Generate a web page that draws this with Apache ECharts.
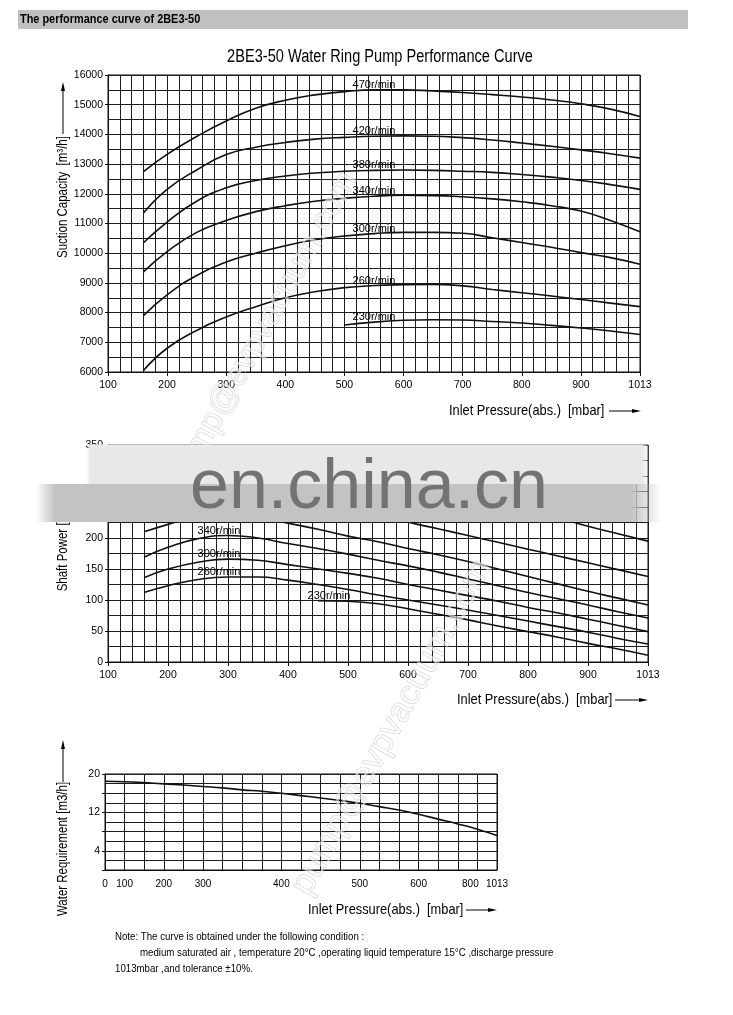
<!DOCTYPE html>
<html><head><meta charset="utf-8">
<script src="https://cdn.jsdelivr.net/npm/echarts@6/dist/echarts.min.js"></script>
<style>html,body{margin:0;padding:0;background:#fff}#c{width:733px;height:1015px}</style>
</head><body><div id="c"></div>
<script>
// ---------------- data ----------------
// x positions in mbar (the 1000 position is labelled 1013 on the original)
const pressure = [160,200,250,300,350,400,450,500,550,600,650,700,750,800,850,900,950,1000];
const xTickLabels = ['100','200','300','400','500','600','700','800','900','1013'];
const speedLabels = ['470r/min','420r/min','380r/min','340r/min','300r/min','260r/min','230r/min'];

// Suction capacity [m3/h]
const suction470 = [12750,13330,13930,14450,14880,15150,15330,15440,15500,15500,15460,15410,15340,15260,15160,15030,14850,14600];
const suction420 = [11350,12150,12800,13320,13570,13730,13840,13900,13940,13950,13940,13890,13810,13710,13600,13480,13350,13200];
const suction380 = [10350,11050,11750,12200,12450,12600,12700,12760,12790,12800,12790,12760,12720,12650,12560,12450,12310,12150];
const suction340 = [9370,10050,10700,11100,11400,11600,11750,11850,11920,11950,11940,11900,11830,11730,11600,11420,11100,10720];
const suction300 = [7900,8600,9250,9700,10000,10250,10450,10580,10660,10700,10700,10670,10520,10360,10200,10020,9850,9630];
const suction260 = [6050,6800,7400,7850,8200,8500,8700,8840,8910,8940,8950,8900,8780,8670,8560,8440,8320,8200];
const suction230 = [null,null,null,null,null,null,null,7580,7680,7740,7760,7750,7700,7650,7570,7480,7380,7260];

// Shaft power [kW]
const power470 = [300,318,330,336,337,334,328,320,310,298,285,272,259,246,233,219,207,195];
const power420 = [255,268,280,285,284,278,268,256,243,226,215,204,193,182,171,160,149,138];
const power380 = [210,222,236,240,234,224,214,203,194,183,173,162,150,138,126,114,103,92];
const power340 = [169,185,199,204,200,191,183,174,164,155,145,134,123,112,102,92,81,71];
const power300 = [136,150,161,166,164,157,150,143,135,125,116,107,98,88,79,69,59,49];
const power260 = [112,123,133,137,137,132,125,117,108,100,92,84,75,66,57,48,38,29];
const power230 = [null,null,null,null,null,null,99,98,94,86,77,68,58,49,40,30,21,11];

// Water requirement [m3/h] on the (non-linear) pressure grid
const waterCats = ['0','100','','200','','300','','','','400','','','','500','','','600','','','800','1013'];
const waterReq = [18.5,18.4,18.2,17.95,17.7,17.4,17.1,16.7,16.4,16.0,15.5,15.0,14.5,13.9,13.2,12.5,11.6,10.6,9.6,8.5,7.2];

// ---------------- styling ----------------
const SANS = '"Liberation Sans",Arial,sans-serif';
const INK = '#111';
const GRIDC = '#1c1c1c';
const gridLine = {show:true, lineStyle:{color:GRIDC, width:1}};
const LBL = 10.5;

function xVal(gi){
  return {gridIndex:gi, type:'value', min:100, max:1000, interval:100,
    axisLine:{show:true, lineStyle:{color:INK}},
    axisTick:{show:true, length:4, lineStyle:{color:INK}},
    axisLabel:{color:'#000', fontFamily:SANS, fontSize:LBL, margin:8,
      formatter:v=>xTickLabels[Math.round((v-100)/100)]},
    splitLine:gridLine, minorTick:{show:true, splitNumber:5, length:0},
    minorSplitLine:gridLine};
}
function yVal(gi,min,max,interval,fmt){
  return {gridIndex:gi, type:'value', min, max, interval,
    axisLine:{show:true, lineStyle:{color:INK}},
    axisTick:{show:true, length:3, lineStyle:{color:INK}},
    axisLabel:{color:'#000', fontFamily:SANS, fontSize:LBL, margin:5, formatter:fmt},
    splitLine:gridLine, minorTick:{show:true, splitNumber:2, length:0},
    minorSplitLine:gridLine};
}
function curve(xi, arr, labelIdx, labelText, offset){
  const s = {type:'line', xAxisIndex:xi, yAxisIndex:xi, smooth:true, symbol:'none',
    connectNulls:false, silent:true,
    lineStyle:{color:INK, width:1.6},
    data:pressure.map((p,k)=>[p, arr[k]])};
  if(labelText){
    s.markPoint = {symbol:'circle', symbolSize:1, silent:true,
      itemStyle:{color:'rgba(0,0,0,0)'},
      label:{show:true, position:'top', distance:1, offset:offset||[0,2],
        formatter:labelText, color:'#000', fontFamily:SANS, fontSize:11},
      data:[{coord:[pressure[labelIdx], arr[labelIdx]]}]};
  }
  return s;
}

const suctionSets = [suction470,suction420,suction380,suction340,suction300,suction260,suction230];
const powerSets = [power470,power420,power380,power340,power300,power260,power230];

const series = [];
suctionSets.forEach((arr,i)=>series.push(curve(0, arr, 8, speedLabels[i], [0,2])));
powerSets.forEach((arr,i)=>{
  if(i===3||i===4||i===5) series.push(curve(1, arr, 3, speedLabels[i], [-9,2]));
  else if(i===6) series.push(curve(1, arr, 6, speedLabels[i], [11,2]));
  else series.push(curve(1, arr));
});
series.push({type:'line', xAxisIndex:2, yAxisIndex:2, smooth:true, symbol:'none', silent:true,
  lineStyle:{color:INK, width:1.6}, data:waterReq});

function txt(x,y,text,size,opts){
  opts = opts||{};
  return Object.assign({type:'text', x, y, z:100, scaleX:opts.sx||0.82,
    style:Object.assign({text, fontSize:size, fontFamily:SANS, fill:'#000',
      align:'left', verticalAlign:'middle'}, opts.style||{})},
    opts.el||{});
}
function arrowRight(x1,x2,y){
  return [{type:'line', z:100, shape:{x1,y1:y,x2:x2-6,y2:y}, style:{stroke:'#000', lineWidth:1}},
          {type:'polygon', z:100, shape:{points:[[x2,y],[x2-9,y-2],[x2-9,y+2]]}, style:{fill:'#000'}}];
}
function arrowUp(x,y1,y2){
  return [{type:'line', z:100, shape:{x1:x,y1,x2:x,y2:y2+6}, style:{stroke:'#000', lineWidth:1}},
          {type:'polygon', z:100, shape:{points:[[x,y2],[x-2,y2+9],[x+2,y2+9]]}, style:{fill:'#000'}}];
}
const fade = (c,a,b)=>({type:'linear', x:0, y:0, x2:1, y2:0, colorStops:[
  {offset:0,color:'rgba('+c+',0)'},{offset:a,color:'rgb('+c+')'},
  {offset:b,color:'rgb('+c+')'},{offset:1,color:'rgba('+c+',0)'}]});
const WM = {text:'pump@evpvacuum.com', fontFamily:SANS, fill:'rgba(255,255,255,0.55)',
  stroke:'rgba(165,165,165,0.45)', lineWidth:1, align:'center', verticalAlign:'middle'};

const graphic = [
  {type:'rect', z:1, shape:{x:18,y:10,width:670,height:19}, style:{fill:'#c0c0c0'}},
  txt(20,19.5,'The performance curve of 2BE3-50',13,{sx:0.84, style:{fontWeight:'bold'}}),
  txt(380,57,'2BE3-50 Water Ring Pump Performance Curve',18,{sx:0.81, style:{align:'center'}}),
  // top chart axis titles
  txt(63,197,'Suction Capacity  [m³/h]',14,{style:{align:'center'}, el:{rotation:Math.PI/2}}),
  ...arrowUp(63,134,82),
  txt(449,411,'Inlet Pressure(abs.)  [mbar]',15,{sx:0.855}),
  ...arrowRight(609,641,411),
  // middle chart
  txt(63,547,'Shaft Power [kW]',14,{style:{align:'center'}, el:{rotation:Math.PI/2}}),
  txt(457,700,'Inlet Pressure(abs.)  [mbar]',15,{sx:0.855}),
  ...arrowRight(615,648,700),
  // bottom chart
  txt(63,849,'Water Requirement [m3/h]',14,{style:{align:'center'}, el:{rotation:Math.PI/2}}),
  ...arrowUp(63,782,740),
  txt(308,910,'Inlet Pressure(abs.)  [mbar]',15,{sx:0.855}),
  ...arrowRight(466,497,910),
  // note
  txt(115,937,'Note: The curve is obtained under the following condition :',11,{sx:0.88}),
  txt(140,953,'medium saturated air , temperature 20°C ,operating liquid temperature 15°C ,discharge pressure',11,{sx:0.88}),
  txt(115,969,'1013mbar ,and tolerance ±10%.',11,{sx:0.88}),
  // faint diagonal watermarks
  {type:'text', x:263, y:330, z:90, rotation:61*Math.PI/180, style:Object.assign({fontSize:33}, WM)},
  {type:'text', x:392, y:727, z:90, rotation:61*Math.PI/180, style:Object.assign({fontSize:35}, WM)},
  // en.china.cn band
  {type:'rect', z:110, shape:{x:86,y:444.5,width:564,height:40}, style:{fill:fade('232,232,232',0.008,0.985)}},
  {type:'rect', z:110, shape:{x:36,y:484,width:626,height:38}, style:{fill:fade('195,195,195',0.03,0.95)}},
  {type:'text', x:190, y:454, z:111, style:{text:'en.china.cn', fontSize:70,
    fontFamily:SANS, fill:'#737373', align:'left', verticalAlign:'top'}}
];

const option = {
  animation:false,
  backgroundColor:'#fff',
  grid:[
    {left:108, top:75, width:532, height:297, show:true, borderColor:INK, borderWidth:1},
    {left:108, top:445, width:540, height:217, show:true, borderColor:INK, borderWidth:1},
    {left:105, top:774, width:392, height:96, show:true, borderColor:INK, borderWidth:1}
  ],
  xAxis:[ xVal(0), xVal(1),
    {gridIndex:2, type:'category', data:waterCats, boundaryGap:false,
     axisLine:{show:true, lineStyle:{color:INK}}, axisTick:{show:false},
     axisLabel:{interval:0, color:'#000', fontFamily:SANS, fontSize:10, margin:9,
       formatter:v=>v==='800'?'{l|800}':v,
       rich:{l:{fontFamily:SANS, fontSize:10, color:'#000', padding:[0,14,0,0]}}},
     splitLine:{show:true, interval:0, lineStyle:{color:GRIDC, width:1}}}
  ],
  yAxis:[
    yVal(0,6000,16000,1000,v=>String(v)),
    yVal(1,0,350,50,v=>(v===250||v===300)?'':String(v)),
    yVal(2,0,20,4,v=>(v===20||v===12||v===4)?String(v):'')
  ],
  series,
  graphic
};
const chart = echarts.init(document.getElementById('c'), null, {renderer:'canvas'});
chart.setOption(option);
</script></body></html>
